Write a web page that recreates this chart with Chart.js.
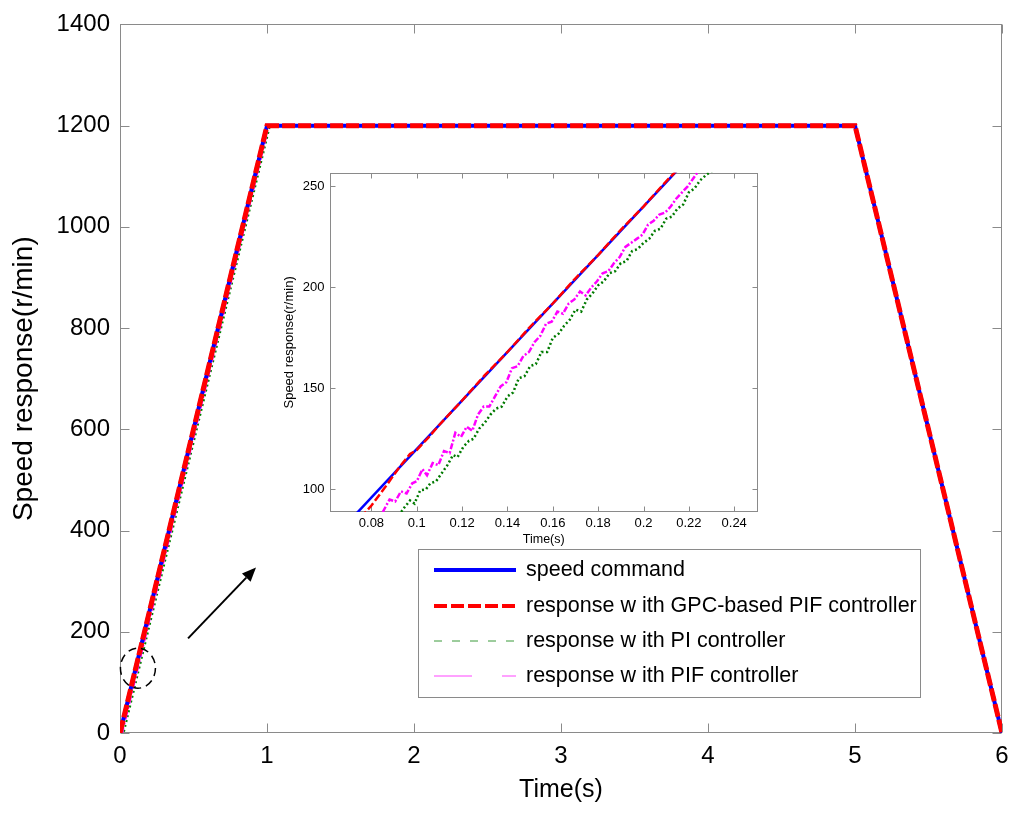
<!DOCTYPE html>
<html><head><meta charset="utf-8">
<script src="https://cdn.jsdelivr.net/npm/chart.js@4.4.0/dist/chart.umd.min.js"></script>
<style>
html,body{margin:0;padding:0;background:#fff;}
#wrap{position:relative;width:1024px;height:819px;overflow:hidden;}
#main{position:absolute;left:0;top:0;}
#inset{position:absolute;left:270px;top:160px;}
</style></head><body>
<div id="wrap"><canvas id="main" width="1024" height="819"></canvas><canvas id="inset" width="495" height="388"></canvas></div>
<script>
// ---------- main chart data ----------
const mainTime = [0, 1, 5, 6];
const speedCommand = [0, 1200, 1200, 0];
const gpcTime = [0, 1, 5, 6];
const gpcResponse = [0, 1200, 1200, 0];
const piTime = [0, 0.025, 1.02, 5.0, 6.0];
const piResponse = [0, 0, 1200, 1200, 0];
const pifTime = [0, 0.015, 1.012, 5.0, 6.0];
const pifResponse = [0, 0, 1200, 1200, 0];
const mainXTicks = [0, 1, 2, 3, 4, 5, 6];
const mainYTicks = [0, 200, 400, 600, 800, 1000, 1200, 1400];

// ---------- inset (zoom) data ----------
const insetCmdTime = [0.06, 0.23];
const insetCmd = [72, 276];
const insetGpcTime = [0.072, 0.08, 0.086, 0.092, 0.097, 0.1, 0.105, 0.11, 0.12, 0.13, 0.14, 0.15, 0.16, 0.17, 0.18, 0.19, 0.2, 0.21, 0.22];
const insetGpc = [82, 92, 101, 110.5, 117.5, 119.5, 125.5, 132, 144, 156.5, 168, 180.5, 192, 204.5, 216, 228.5, 240, 252.5, 264];
const insetPifTime = [0.085, 0.088, 0.0905, 0.093, 0.0955, 0.098, 0.1, 0.1025, 0.1045, 0.107, 0.1095, 0.112, 0.1145, 0.117, 0.1195, 0.122, 0.1245, 0.127, 0.1295, 0.132, 0.1345, 0.137, 0.1395, 0.142, 0.1445, 0.147, 0.1495, 0.152, 0.1545, 0.157, 0.1595, 0.162, 0.1645, 0.167, 0.1695, 0.172, 0.1745, 0.177, 0.1795, 0.182, 0.1845, 0.187, 0.1895, 0.192, 0.1945, 0.197, 0.1995, 0.202, 0.2045, 0.207, 0.2095, 0.212, 0.2145, 0.217, 0.2195, 0.222, 0.2245];
const insetPif = [88.8, 95, 94, 99, 98, 103, 104, 110, 107, 113, 112, 119, 118, 128, 126, 131, 129, 137, 141, 141, 146, 151, 153, 160, 161, 166, 168, 173, 176, 182, 183, 188, 187, 192, 194, 198, 196, 200, 203, 207, 208, 212, 215, 220, 222, 224, 226, 231, 233, 236, 237, 240, 244, 247, 250, 254, 258];
const insetPiTime = [0.092, 0.0945, 0.097, 0.099, 0.1015, 0.104, 0.106, 0.1085, 0.111, 0.1135, 0.116, 0.118, 0.1205, 0.123, 0.125, 0.1275, 0.13, 0.1325, 0.135, 0.1375, 0.14, 0.1425, 0.145, 0.1475, 0.15, 0.1525, 0.155, 0.1575, 0.16, 0.1625, 0.165, 0.1675, 0.17, 0.1725, 0.175, 0.1775, 0.18, 0.1825, 0.185, 0.1875, 0.19, 0.1925, 0.195, 0.1975, 0.2, 0.2025, 0.205, 0.2075, 0.21, 0.2125, 0.215, 0.2175, 0.22, 0.2225, 0.225, 0.228, 0.231];
const insetPi = [87, 91, 94.5, 93, 99.5, 100, 103, 104, 108, 112, 117, 116, 121, 124, 125, 130, 133, 137, 140, 141, 146, 148, 155, 156, 161, 162, 168, 168, 175, 177, 181, 184, 189, 188, 194, 197, 201, 203, 207, 208, 212, 213, 218, 219, 222, 224, 228, 229, 234, 235, 239, 241, 247, 249, 253, 256, 258];
const insetXTicks = [0.08, 0.1, 0.12, 0.14, 0.16, 0.18, 0.2, 0.22, 0.24];
const insetYTicks = [100, 150, 200, 250];

// ---------- legend ----------
const legendLabels = ['speed command', 'response w ith GPC-based PIF controller', 'response w ith PI controller', 'response w ith PIF controller'];

const FONT = "'Liberation Sans', Arial, Helvetica, sans-serif";
const AXIS_GRAY = '#8a8a8a';
const toXY = (ts, vs) => ts.map((t, i) => ({x: t, y: vs[i]}));

const framePlugin = {
  id: 'frame',
  beforeDatasetsDraw(chart, args, o) {
    const {ctx, chartArea: c, scales: {x, y}} = chart;
    ctx.save();
    ctx.strokeStyle = o.color; ctx.lineWidth = 1;
    const L = Math.round(c.left) + 0.5, R = Math.round(c.right) - 0.5, T = Math.round(c.top) + 0.5, B = Math.round(c.bottom) - 0.5;
    ctx.strokeRect(L, T, R - L, B - T);
    ctx.beginPath();
    x.ticks.forEach(t => { const p = Math.round(x.getPixelForValue(t.value)) + 0.5; ctx.moveTo(p, B); ctx.lineTo(p, B - o.len); ctx.moveTo(p, T); ctx.lineTo(p, T + o.len); });
    y.ticks.forEach(t => { const p = Math.round(y.getPixelForValue(t.value)) + 0.5; ctx.moveTo(L, p); ctx.lineTo(L + o.len, p); ctx.moveTo(R, p); ctx.lineTo(R - o.len, p); });
    ctx.stroke();
    ctx.restore();
  }
};

const annotatePlugin = {
  id: 'annotate',
  afterDatasetsDraw(chart, args, o) {
    const {ctx, scales: {x, y}} = chart;
    ctx.save();
    const cx = x.getPixelForValue(o.circle[0]), cy = y.getPixelForValue(o.circle[1]);
    ctx.strokeStyle = '#000'; ctx.lineWidth = 1.5; ctx.setLineDash([8, 5]);
    ctx.beginPath(); ctx.ellipse(cx, cy, 17.5, 20, 0, 0, Math.PI * 2); ctx.stroke();
    ctx.setLineDash([]);
    const x1 = x.getPixelForValue(o.arrow[0]), y1 = y.getPixelForValue(o.arrow[1]);
    const x2 = x.getPixelForValue(o.arrow[2]), y2 = y.getPixelForValue(o.arrow[3]);
    const ang = Math.atan2(y2 - y1, x2 - x1);
    const hl = 14, hw = 6;
    const bx = x2 - hl * Math.cos(ang), by = y2 - hl * Math.sin(ang);
    ctx.lineWidth = 2;
    ctx.beginPath(); ctx.moveTo(x1, y1); ctx.lineTo(bx, by); ctx.stroke();
    ctx.fillStyle = '#000';
    ctx.beginPath();
    ctx.moveTo(x2, y2);
    ctx.lineTo(bx + hw * Math.sin(ang), by - hw * Math.cos(ang));
    ctx.lineTo(bx - hw * Math.sin(ang), by + hw * Math.cos(ang));
    ctx.closePath(); ctx.fill();
    ctx.restore();
  },
  afterDraw(chart, args, o) {
    const ctx = chart.ctx;
    const bx = 418.5, by = 549.5, bw = 502, bh = 148;
    ctx.save();
    ctx.fillStyle = '#fff'; ctx.fillRect(bx, by, bw, bh);
    ctx.strokeStyle = AXIS_GRAY; ctx.lineWidth = 1; ctx.strokeRect(bx, by, bw, bh);
    const rows = [570, 606, 641, 676];
    const styles = [
      {c: '#0000ff', w: 4, d: []},
      {c: '#ff0000', w: 4, d: [13, 4]},
      {c: '#3a9a3a', w: 1, d: [8, 10]},
      {c: '#ff44ff', w: 1, d: [38, 30]}
    ];
    ctx.font = '21.5px ' + FONT; ctx.fillStyle = '#000'; ctx.textBaseline = 'middle'; ctx.textAlign = 'left';
    legendLabels.forEach((lab, i) => {
      const s = styles[i];
      ctx.strokeStyle = s.c; ctx.lineWidth = s.w; ctx.setLineDash(s.d);
      ctx.beginPath(); ctx.moveTo(434, rows[i]); ctx.lineTo(516, rows[i]); ctx.stroke();
      ctx.setLineDash([]);
      ctx.fillText(lab, 526, rows[i]);
    });
    ctx.restore();
  }
};

function ticksFrom(arr) { return s => { s.ticks = arr.map(v => ({value: v})); }; }

new Chart(document.getElementById('main'), {
  type: 'line',
  data: {
    datasets: [
      {data: toXY(gpcTime, gpcResponse), borderColor: '#ff0000', borderWidth: 5, borderDash: [13, 3]},
      {data: toXY(mainTime, speedCommand), borderColor: '#0000ff', borderWidth: 4},
      {data: toXY(pifTime, pifResponse), borderColor: '#ff00ff', borderWidth: 2, borderDash: [8, 3, 2, 3]},
      {data: toXY(piTime, piResponse), borderColor: '#008000', borderWidth: 2, borderDash: [2, 3]}
    ]
  },
  options: {
    responsive: false, animation: false, devicePixelRatio: 1,
    elements: {point: {radius: 0}, line: {tension: 0, borderCapStyle: 'butt'}},
    layout: {padding: {top: 22, right: 22, left: 0, bottom: 0}},
    plugins: {
      legend: {display: false}, tooltip: {enabled: false},
      frame: {color: AXIS_GRAY, len: 9},
      annotate: {circle: [0.122, 128], arrow: [0.463, 187, 0.925, 327]}
    },
    scales: {
      x: {
        type: 'linear', min: 0, max: 6,
        afterBuildTicks: ticksFrom(mainXTicks),
        afterFit: s => { s.height = 86; },
        grid: {display: false, drawTicks: false}, border: {display: false},
        ticks: {color: '#000', font: {family: FONT, size: 24}, padding: 9, callback: v => String(v), maxRotation: 0},
        title: {display: true, text: 'Time(s)', color: '#000', font: {family: FONT, size: 25}, padding: {top: 0, bottom: 14}}
      },
      y: {
        type: 'linear', min: 0, max: 1400,
        afterBuildTicks: ticksFrom(mainYTicks),
        afterFit: s => { s.width = 120; },
        grid: {display: false, drawTicks: false}, border: {display: false},
        ticks: {color: '#000', font: {family: FONT, size: 24}, padding: 10, callback: v => String(v)},
        title: {display: true, text: 'Speed response(r/min)', color: '#000', font: {family: FONT, size: 28}, padding: {top: 7, bottom: 0}}
      }
    }
  },
  plugins: [framePlugin, annotatePlugin]
});

new Chart(document.getElementById('inset'), {
  type: 'line',
  data: {
    datasets: [
      {data: toXY(insetGpcTime, insetGpc), borderColor: '#ff0000', borderWidth: 2.5, borderDash: [8, 3]},
      {data: toXY(insetCmdTime, insetCmd), borderColor: '#0000ff', borderWidth: 2.5},
      {data: toXY(insetPifTime, insetPif), borderColor: '#ff00ff', borderWidth: 2.5, borderDash: [6, 2, 2, 2]},
      {data: toXY(insetPiTime, insetPi), borderColor: '#007a00', borderWidth: 2.5, borderDash: [2, 2.5]}
    ]
  },
  options: {
    responsive: false, animation: false, devicePixelRatio: 1,
    elements: {point: {radius: 0}, line: {tension: 0}},
    layout: {padding: {top: 7, right: 7, left: 0, bottom: 0}},
    plugins: {legend: {display: false}, tooltip: {enabled: false}, frame: {color: AXIS_GRAY, len: 5}},
    scales: {
      x: {
        type: 'linear', min: 0.0615, max: 0.2505,
        afterBuildTicks: ticksFrom(insetXTicks),
        afterFit: s => { s.height = 36; },
        grid: {display: false, drawTicks: false}, border: {display: false},
        ticks: {color: '#000', font: {family: FONT, size: 13}, padding: 4, callback: v => String(v), maxRotation: 0},
        title: {display: true, text: 'Time(s)', color: '#000', font: {family: FONT, size: 12.5}, padding: {top: 0, bottom: 1}}
      },
      y: {
        type: 'linear', min: 88.8, max: 256.7,
        afterBuildTicks: ticksFrom(insetYTicks),
        afterFit: s => { s.width = 59.5; },
        grid: {display: false, drawTicks: false}, border: {display: false},
        ticks: {color: '#000', font: {family: FONT, size: 13}, padding: 5, callback: v => String(v)},
        title: {display: true, text: 'Speed response(r/min)', color: '#000', font: {family: FONT, size: 13}, padding: {top: 12, bottom: 0}}
      }
    }
  },
  plugins: [framePlugin]
});
</script>
</body></html>
